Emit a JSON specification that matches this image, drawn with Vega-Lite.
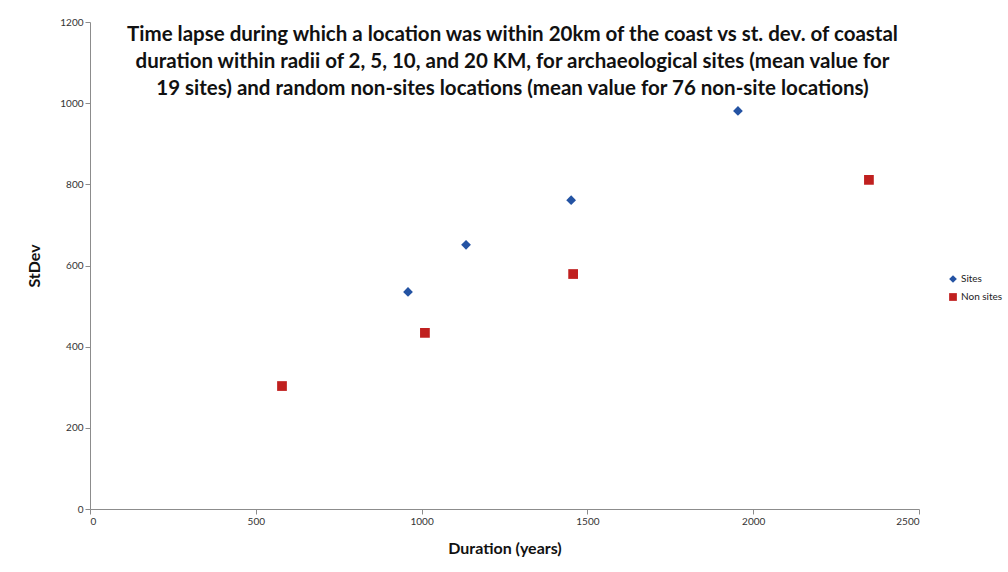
{
  "$schema": "https://vega.github.io/schema/vega-lite/v6.json",
  "width": 829,
  "height": 487,
  "autosize": {"type": "none"},
  "padding": {"left": 90, "top": 22, "right": 89, "bottom": 63},
  "background": "white",
  "title": {
    "text": [
      "Time lapse during which a location was within 20km of the coast vs st. dev. of coastal",
      "duration within radii of 2, 5, 10, and 20 KM, for archaeological sites (mean value for",
      "19 sites) and random non-sites locations (mean value for 76 non-site locations)"
    ],
    "font": "Lato",
    "fontSize": 20.5,
    "fontWeight": "bold",
    "color": "#111111",
    "lineHeight": 27,
    "anchor": "middle",
    "frame": "group",
    "offset": -82,
    "dx": 8
  },
  "data": {
    "values": [
      {"type": "Sites", "duration": 959, "stdev": 535},
      {"type": "Sites", "duration": 1134, "stdev": 651},
      {"type": "Sites", "duration": 1451, "stdev": 761},
      {"type": "Sites", "duration": 1954, "stdev": 981},
      {"type": "Non sites", "duration": 579, "stdev": 303},
      {"type": "Non sites", "duration": 1010, "stdev": 434},
      {"type": "Non sites", "duration": 1457, "stdev": 579},
      {"type": "Non sites", "duration": 2349, "stdev": 811}
    ]
  },
  "mark": {"type": "point", "filled": true, "opacity": 1, "size": 95},
  "encoding": {
    "x": {
      "field": "duration",
      "type": "quantitative",
      "title": "Duration (years)",
      "scale": {"domain": [0, 2500], "nice": false, "zero": true},
      "axis": {"values": [0, 500, 1000, 1500, 2000, 2500], "format": "d", "grid": false, "titlePadding": 14}
    },
    "y": {
      "field": "stdev",
      "type": "quantitative",
      "title": "StDev",
      "scale": {"domain": [0, 1200], "nice": false},
      "axis": {"values": [0, 200, 400, 600, 800, 1000, 1200], "format": "d", "grid": false, "titlePadding": 17}
    },
    "color": {
      "field": "type",
      "type": "nominal",
      "scale": {"domain": ["Sites", "Non sites"], "range": ["#2453a3", "#c0201f"]},
      "legend": {"title": null, "orient": "none", "legendX": 858, "legendY": 252}
    },
    "shape": {
      "field": "type",
      "type": "nominal",
      "scale": {"domain": ["Sites", "Non sites"], "range": ["diamond", "square"]},
      "legend": {"title": null, "orient": "none", "legendX": 858, "legendY": 252}
    }
  },
  "config": {
    "view": {"stroke": null},
    "font": "Lato",
    "axis": {
      "domainColor": "#8c8c8c",
      "tickColor": "#8c8c8c",
      "tickSize": 5,
      "labelFont": "Lato",
      "labelFontSize": 10,
      "labelColor": "#333333",
      "titleFont": "Lato",
      "titleFontSize": 16,
      "titleFontWeight": "bold",
      "titleColor": "#111111"
    },
    "legend": {
      "labelFont": "Lato",
      "labelFontSize": 10,
      "labelColor": "#222222",
      "symbolSize": 60,
      "rowPadding": 8,
      "labelOffset": 3
    }
  }
}
